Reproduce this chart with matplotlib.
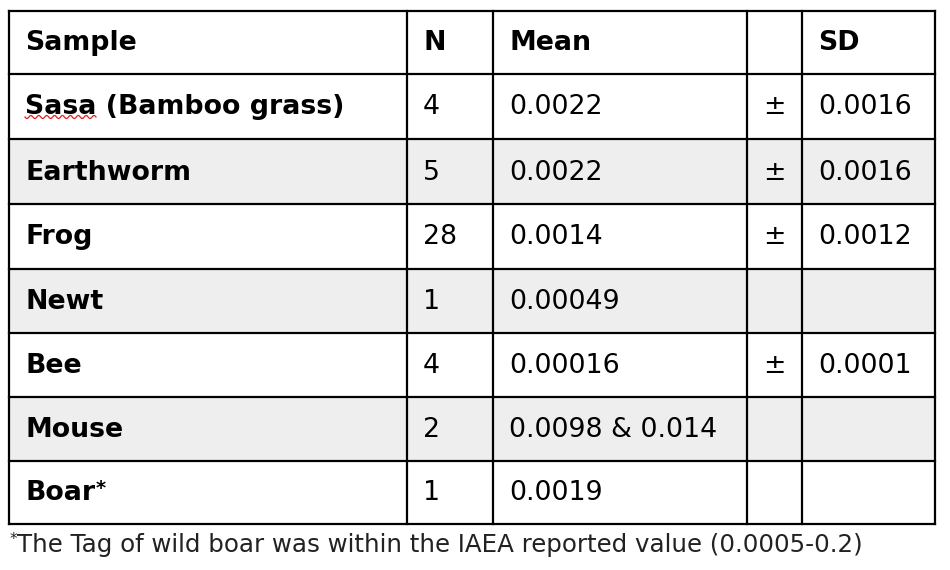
import matplotlib.pyplot as plt
import numpy as np

plt.rcParams["font.family"] = ["DejaVu Sans"]

# table contents
header = ["Sample", "N", "Mean", "", "SD"]
samples = ["Sasa (Bamboo grass)", "Earthworm", "Frog", "Newt", "Bee", "Mouse", "Boar"]
n_vals = ["4", "5", "28", "1", "4", "2", "1"]
means = ["0.0022", "0.0022", "0.0014", "0.00049", "0.00016", "0.0098 & 0.014", "0.0019"]
pm = ["±", "±", "±", "", "±", "", ""]
sds = ["0.0016", "0.0016", "0.0012", "", "0.0001", "", ""]
footnote = "The Tag of wild boar was within the IAEA reported value (0.0005-0.2)"

# layout in pixels
col_x = [9, 407, 493, 747, 802, 935]
row_y = [11, 74, 139, 204, 269, 333, 397, 461, 524]
shade = [False, True, False, True, False, True, False]
fs = 19.3

fig = plt.figure(figsize=(9.5, 5.7), dpi=100)
ax = fig.add_axes([0, 0, 1, 1])
ax.set_xlim(0, 950)
ax.set_ylim(570, 0)
ax.axis("off")

for i, s in enumerate(shade):
    if s:
        ax.fill_between([col_x[0], col_x[-1]], row_y[i + 1], row_y[i + 2],
                        color="#eeeeee", lw=0, zorder=0)

for y in row_y:
    ax.plot([col_x[0], col_x[-1]], [y, y], color="black", lw=1.6, zorder=2,
            solid_capstyle="projecting")
for x in col_x:
    ax.plot([x, x], [row_y[0], row_y[-1]], color="black", lw=1.6, zorder=2,
            solid_capstyle="projecting")

def cell_text(col, row, txt, bold=False, center=False):
    yc = (row_y[row] + row_y[row + 1]) / 2 + 1
    if center:
        ax.text((col_x[col] + col_x[col + 1]) / 2, yc, txt, ha="center", va="center",
                fontsize=fs, fontweight="bold" if bold else "normal", zorder=3)
    else:
        return ax.text(col_x[col] + 16, yc, txt, ha="left", va="center",
                       fontsize=fs, fontweight="bold" if bold else "normal", zorder=3)

for c, h in enumerate(header):
    if h:
        cell_text(c, 0, h, bold=True)

for r in range(len(samples)):
    row = r + 1
    t = cell_text(0, row, samples[r], bold=True)
    if samples[r] == "Boar":
        fig.canvas.draw()
        bb = t.get_window_extent().transformed(ax.transData.inverted())
        ax.text(max(bb.x0, bb.x1) + 1, row_y[row] + 18, "*", ha="left", va="top",
                fontsize=14, fontweight="bold", zorder=3)
    cell_text(1, row, n_vals[r])
    cell_text(2, row, means[r])
    if pm[r]:
        cell_text(3, row, pm[r], center=True)
    if sds[r]:
        cell_text(4, row, sds[r])

# spell-check squiggle under "Sasa"
xs = np.linspace(25, 96, 60)
ax.plot(xs, 117 + 1.6 * np.sin((xs - 25) / 71 * 2 * np.pi * 9), color="#e02020", lw=0.9, zorder=3)

ax.text(col_x[0] + 1, 532, "*", ha="left", va="top", fontsize=11, color="#222222")
ft = ax.text(col_x[0] + 8, 552, footnote, ha="left", va="baseline", fontsize=16,
             color="#222222")
# fit footnote width to the table
fig.canvas.draw()
w = ft.get_window_extent().width
ft.set_fontsize(16 * 847 / w)

fig.savefig("out.png", dpi=100)
